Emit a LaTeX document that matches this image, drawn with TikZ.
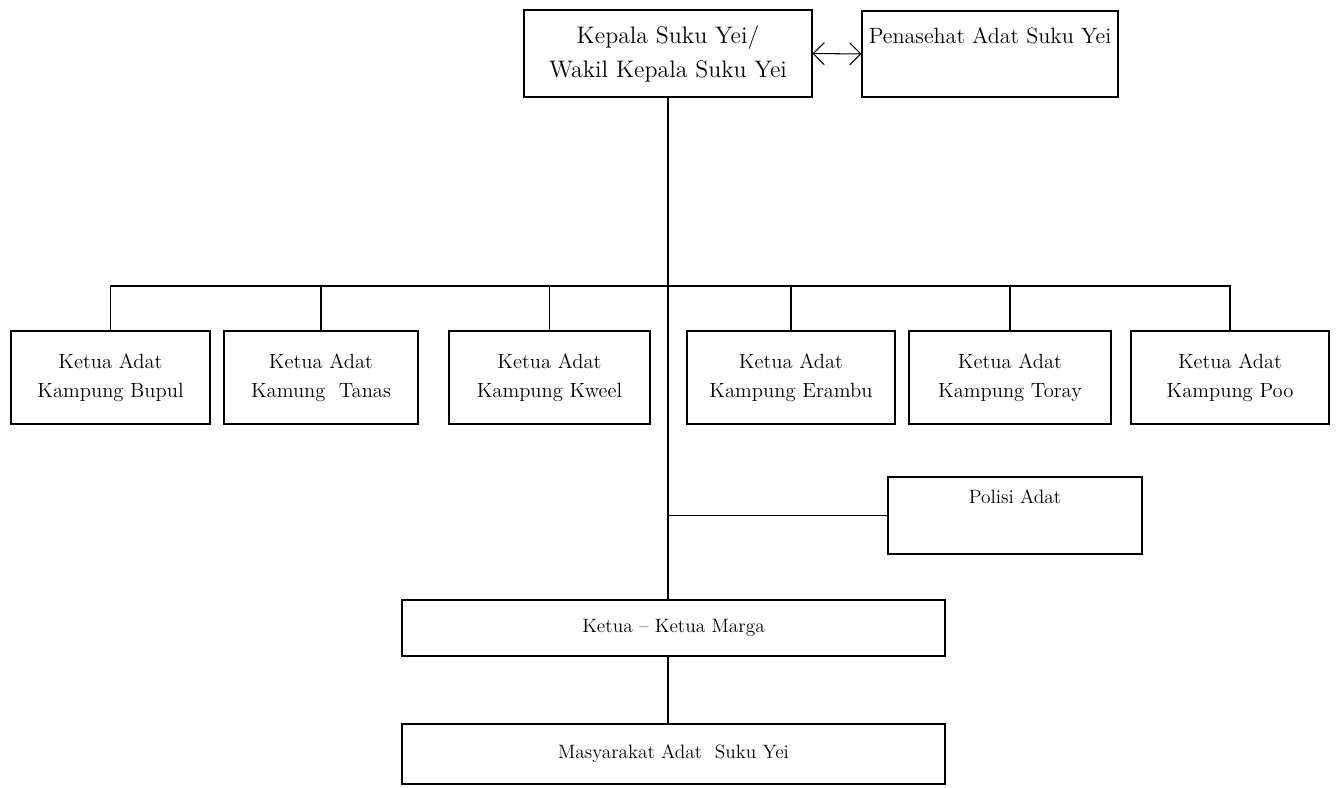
\documentclass[tikz,border=0pt]{standalone}
\usepackage{tikz}
\usetikzlibrary{arrows.meta, positioning, calc}

\begin{document}
\begin{tikzpicture}[
    orgbox/.style={draw, line width=0.6pt, align=center, inner sep=0pt},
    topfont/.style={font=\fontsize{13.6}{19.5}\selectfont},
    rowfont/.style={font=\fontsize{11.7}{16.5}\selectfont},
    lowfont/.style={font=\fontsize{11}{16.5}\selectfont},
    link/.style={line width=0.6pt}
  ]
        \useasboundingbox (0,0) rectangle (26.72,-15.76);

        % Head of the tribe and adviser
        \node[orgbox, topfont, minimum width=5.76cm, minimum height=1.74cm] (kepala) at (13.36,-1.07)
            {Kepala Suku Yei/\\Wakil Kepala Suku Yei};
        \node[orgbox, font=\fontsize{12.6}{16}\selectfont, minimum width=5.12cm, minimum height=1.72cm] (penasehat) at (19.8,-1.08)
            {Penasehat Adat Suku Yei\\\strut};
        \draw[link, {Straight Barb[length=2.2mm]}-{Straight Barb[length=2.2mm]}] (kepala.east) -- (penasehat.west);

        % Village heads
        \node[orgbox, rowfont, minimum width=3.98cm, minimum height=1.86cm] (bupul) at (2.21,-7.55)
            {Ketua Adat\\Kampung Bupul};
        \node[orgbox, rowfont, minimum width=3.88cm, minimum height=1.86cm] (tanas) at (6.42,-7.55)
            {Ketua Adat\\Kamung\ \ Tanas};
        \node[orgbox, rowfont, minimum width=4.02cm, minimum height=1.86cm] (kweel) at (10.99,-7.55)
            {Ketua Adat\\Kampung Kweel};
        \node[orgbox, rowfont, minimum width=4.16cm, minimum height=1.86cm] (erambu) at (15.82,-7.55)
            {Ketua Adat\\Kampung Erambu};
        \node[orgbox, rowfont, minimum width=4.04cm, minimum height=1.86cm] (toray) at (20.2,-7.55)
            {Ketua Adat\\Kampung Toray};
        \node[orgbox, rowfont, minimum width=3.96cm, minimum height=1.86cm] (poo) at (24.6,-7.55)
            {Ketua Adat\\Kampung Poo};

        % Police, clan heads, community
        \node[orgbox, lowfont, minimum width=5.08cm, minimum height=1.54cm] (polisi) at (20.3,-10.31)
            {Polisi Adat\\\strut};
        \node[orgbox, lowfont, minimum width=10.86cm, minimum height=1.12cm] (marga) at (13.47,-12.56)
            {Ketua -- Ketua Marga};
        \node[orgbox, lowfont, minimum width=10.86cm, minimum height=1.2cm] (masyarakat) at (13.47,-15.08)
            {Masyarakat Adat\ \ Suku Yei};

        % Lines
        \coordinate (bus) at (13.36,-5.72);
        \draw[link] (kepala.south) -- (kepala.south |- marga.north);
        \draw[link] (kepala.south |- marga.south) -- (kepala.south |- masyarakat.north);
        \draw[link] (bupul.north) |- (bus) -| (poo.north);
        \foreach \v in {tanas, kweel, erambu, toray}
            \draw[link] (\v.north) -- (\v.north |- bus);
        \draw[link] (polisi.west) -- (polisi.west -| kepala.south);
    \end{tikzpicture}
\end{document}
